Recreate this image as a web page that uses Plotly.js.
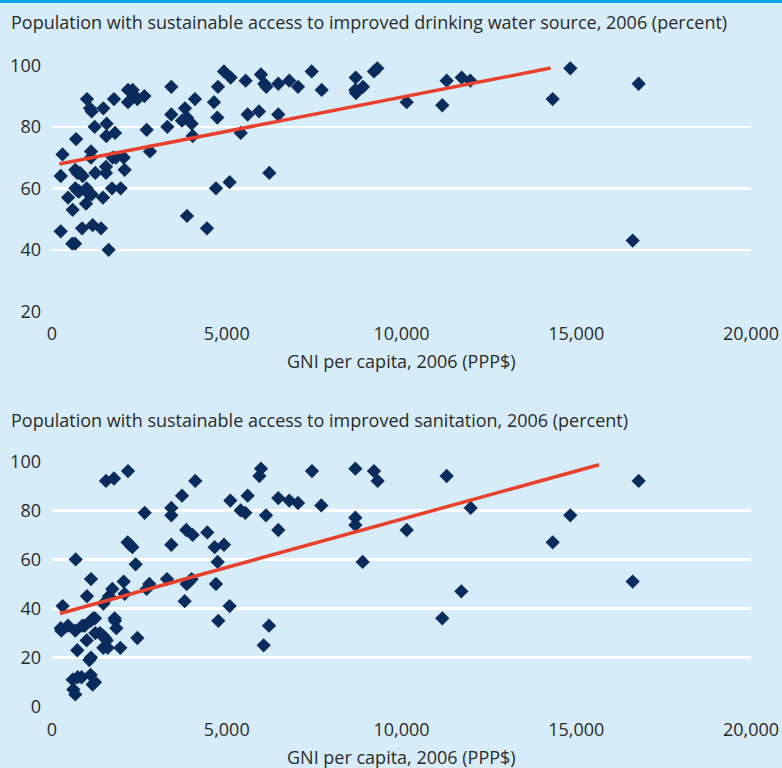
<!DOCTYPE html>
<html>
<head>
<meta charset="utf-8">
<script src="https://cdn.plot.ly/plotly-3.0.1.min.js"></script>
<style>
  html, body { margin: 0; padding: 0; background: #d6edf9; }
  #chart { width: 782px; height: 768px; }
</style>
</head>
<body>
<div id="chart"></div>
<script>
// ---------- Data ----------
const titleWater = "Population with sustainable access to improved drinking water source, 2006 (percent)";
const titleSanitation = "Population with sustainable access to improved sanitation, 2006 (percent)";
const xAxisTitle = "GNI per capita, 2006 (PPP$)";
const xTickVals = [0, 5000, 10000, 15000, 20000];
const yTickValsWater = [20, 40, 60, 80, 100];
const yTickValsSan = [0, 20, 40, 60, 80, 100];

// Panel 1: drinking water
const waterGNI = [300, 250, 250, 460, 590, 580, 660, 690, 667, 724, 801, 877, 667, 744, 781, 860,
  992, 1068, 1135, 973, 1001, 1087, 1135, 1221, 1116, 1116, 1163, 1240, 1402, 1469, 1459, 1564,
  1554, 1545, 1545, 1621, 1717, 1774, 1803, 1736, 1831, 1965, 2051, 2079, 2175, 2175, 2308, 2375,
  2442, 2642, 2709, 2804, 3414, 3414, 3300, 3719, 3805, 3862, 3996, 4091, 4025, 3862, 4635, 4730,
  4749, 4921, 5112, 4692, 5083, 4434, 5400, 5541, 5598, 5923, 5980, 6075, 6132, 6218, 6475, 6475,
  6790, 7039, 7430, 7716, 8689, 8680, 8698, 8898, 9213, 9308, 10149, 11167, 11293, 11722, 11969,
  14326, 14830, 16786, 16614];
const waterPct = [71, 64, 46, 57, 53, 42, 42, 76, 66, 65, 65, 64, 60, 59, 59, 47,
  60, 58, 58, 55, 89, 86, 85, 80, 72, 70, 48, 65, 47, 86, 57, 81,
  77, 67, 65, 40, 60, 89, 78, 70, 70, 60, 70, 66, 92, 88, 92, 90,
  89, 90, 79, 72, 93, 84, 80, 82, 86, 83, 81, 89, 77, 51, 88, 83,
  93, 98, 96, 60, 62, 47, 78, 95, 84, 85, 97, 94, 93, 65, 94, 84,
  95, 93, 98, 92, 96, 92, 91, 93, 98, 99, 88, 87, 95, 96, 95,
  89, 99, 94, 43];
const waterTrendGNI = [210, 14270];
const waterTrendPct = [67.9, 99.1];

// Panel 2: sanitation
const sanGNI = [305, 249, 267, 458, 667, 678, 724, 868, 935, 1001, 992, 1116, 1106, 1183, 1230,
  1068, 1116, 592, 734, 849, 610, 667, 1106, 1163, 1230, 1240, 1373, 1450, 1516, 1565, 1469, 1593,
  1469, 1631, 1726, 1545, 1774, 2175, 1793, 1803, 1841, 1955, 2051, 2079, 2165, 2232, 2299, 2394,
  2442, 2652, 2709, 2785, 3290, 3414, 3414, 3414, 3719, 3843, 4025, 4100, 3853, 3929, 3996, 3796,
  4444, 4654, 4921, 4740, 4692, 4759, 5103, 5083, 5398, 5531, 5598, 5980, 5932, 6123, 6209, 6056,
  6475, 6475, 6790, 7039, 7439, 7706, 8680, 8680, 8680, 8889, 9213, 9318, 10149, 11293, 11167,
  11712, 11979, 14326, 14830, 16786, 16614];
const sanPct = [41, 32, 31, 33, 31, 60, 23, 33, 33, 45, 27, 52, 35, 36, 36,
  19, 20, 11, 12, 12, 7, 5, 13, 9, 10, 30, 30, 29, 28, 27, 24, 24,
  42, 45, 48, 92, 93, 96, 36, 35, 32, 24, 51, 46, 67, 66, 65, 58,
  28, 79, 48, 50, 52, 81, 78, 66, 86, 72, 70, 92, 50, 51, 52, 43,
  71, 65, 66, 59, 50, 35, 84, 41, 80, 79, 86, 97, 94, 78, 33, 25,
  85, 72, 84, 83, 96, 82, 97, 77, 74, 59, 96, 92, 72, 94, 36,
  47, 81, 67, 78, 92, 51];
const sanTrendGNI = [229, 15651];
const sanTrendPct = [38.0, 98.6];

// ---------- Styling ----------
const W = 782, H = 768;
const bg = "#d6edf9";
const navy = "#0a2c5c";
const red = "#e8412e";
const textCol = "#2a2a2a";
const fontFam = "'Open Sans', 'Noto Sans', sans-serif";

const px = v => v / W;            // x pixel -> paper fraction
const py = v => 1 - v / H;        // y pixel -> paper fraction

const markerStyle = { symbol: "diamond", size: 11, color: navy, line: { width: 0 } };
const lineStyle = { color: red, width: 3.5 };

const traces = [
  { x: waterGNI, y: waterPct, type: "scatter", mode: "markers", marker: markerStyle,
    xaxis: "x", yaxis: "y", cliponaxis: false, hoverinfo: "skip" },
  { x: waterTrendGNI, y: waterTrendPct, type: "scatter", mode: "lines", line: lineStyle,
    xaxis: "x", yaxis: "y", cliponaxis: false, hoverinfo: "skip" },
  { x: sanGNI, y: sanPct, type: "scatter", mode: "markers", marker: markerStyle,
    xaxis: "x2", yaxis: "y2", cliponaxis: false, hoverinfo: "skip" },
  { x: sanTrendGNI, y: sanTrendPct, type: "scatter", mode: "lines", line: lineStyle,
    xaxis: "x2", yaxis: "y2", cliponaxis: false, hoverinfo: "skip" }
];

const tickFont = { family: fontFam, size: 18, color: textCol };

function xAxis(anchor) {
  return {
    anchor: anchor,
    domain: [px(52), px(751)],
    range: [0, 20000],
    tickvals: xTickVals,
    tickformat: ",",
    showgrid: false, zeroline: false, showline: false,
    ticks: "", ticklabelstandoff: 10,
    tickfont: tickFont,
    automargin: false, fixedrange: true
  };
}
function yAxis(anchor, topPx, bottomPx, range, vals) {
  return {
    anchor: anchor,
    domain: [py(bottomPx), py(topPx)],
    range: range,
    tickvals: vals,
    showgrid: true, gridcolor: "#ffffff", gridwidth: 2.5,
    zeroline: false, showline: false,
    ticks: "", ticklabelstandoff: 10,
    tickfont: tickFont,
    automargin: false, fixedrange: true
  };
}

const layout = {
  width: W, height: H,
  margin: { l: 0, r: 0, t: 0, b: 0 },
  paper_bgcolor: bg, plot_bgcolor: bg,
  showlegend: false,
  font: { family: fontFam, color: textCol },
  xaxis: xAxis("y"),
  yaxis: yAxis("x", 65.3, 311.3, [20, 100], yTickValsWater),
  xaxis2: xAxis("y2"),
  yaxis2: yAxis("x2", 461.3, 706.7, [0, 100], yTickValsSan),
  shapes: [
    { type: "rect", xref: "paper", yref: "paper", x0: 0, x1: 1, y0: py(3), y1: 1,
      fillcolor: "#08a4e2", line: { width: 0 } }
  ],
  annotations: [
    { text: titleWater, xref: "paper", yref: "paper", x: px(9), y: py(22),
      xanchor: "left", yanchor: "middle", showarrow: false,
      font: { family: fontFam, size: 18, color: textCol } },
    { text: titleSanitation, xref: "paper", yref: "paper", x: px(9), y: py(420),
      xanchor: "left", yanchor: "middle", showarrow: false,
      font: { family: fontFam, size: 18, color: textCol } },
    { text: xAxisTitle, xref: "paper", yref: "paper", x: px(401.5), y: py(361),
      xanchor: "center", yanchor: "middle", showarrow: false,
      font: { family: fontFam, size: 18, color: textCol } },
    { text: xAxisTitle, xref: "paper", yref: "paper", x: px(401.5), y: py(757),
      xanchor: "center", yanchor: "middle", showarrow: false,
      font: { family: fontFam, size: 18, color: textCol } }
  ]
};

Plotly.newPlot("chart", traces, layout, { displayModeBar: false, staticPlot: true });
</script>
</body>
</html>
